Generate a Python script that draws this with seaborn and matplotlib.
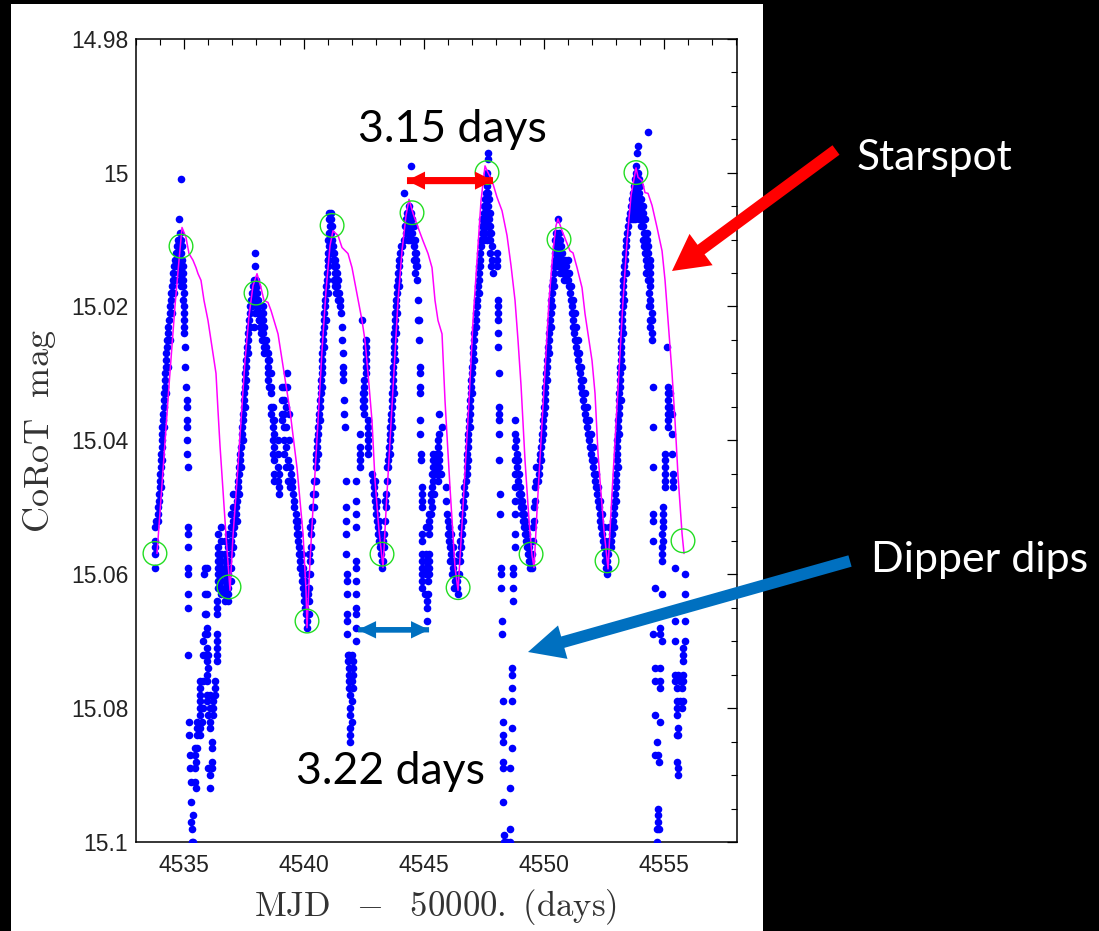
import matplotlib
matplotlib.use("Agg")
import matplotlib.pyplot as plt
import seaborn as sns
import numpy as np
from matplotlib.patches import Rectangle
from matplotlib.ticker import MultipleLocator, FixedLocator, FixedFormatter

# ---------------- data (MJD-50000, CoRoT mag) ----------------
rise1 = [(4533.79,15.059),(4533.79,15.057),(4533.81,15.056),(4533.79,15.055),(4533.81,15.053),(4533.85,15.052),(4533.90,15.052),(4533.90,15.051),(4533.92,15.050),(4533.95,15.049),(4533.97,15.048),(4534.00,15.047),(4533.98,15.046),(4534.02,15.045),(4534.04,15.044),(4534.05,15.043),(4534.06,15.042),(4534.08,15.041),(4534.08,15.040),(4534.10,15.039),(4534.10,15.038),(4534.12,15.037),(4534.13,15.036),(4534.15,15.035),(4534.17,15.034),(4534.17,15.033),(4534.19,15.032),(4534.21,15.031),(4534.21,15.030),(4534.23,15.029),(4534.25,15.028),(4534.27,15.027),(4534.29,15.026),(4534.31,15.025),(4534.33,15.024),(4534.35,15.023),(4534.37,15.022),(4534.40,15.021),(4534.42,15.020),(4534.44,15.019),(4534.46,15.018),(4534.50,15.017),(4534.54,15.016),(4534.56,15.015),(4534.60,15.014),(4534.63,15.013),(4534.67,15.012),(4534.70,15.011),(4534.73,15.010),(4534.04,15.047),(4534.10,15.043),(4534.17,15.038),(4534.25,15.033),(4534.33,15.029),(4534.40,15.025),(4534.48,15.021),(4534.58,15.018),(4534.63,15.016),(4534.67,15.014)]
peak1 = [(4534.875,15.001),(4534.79,15.007),(4534.83,15.009),(4534.79,15.010),(4534.875,15.010),(4534.83,15.011),(4534.92,15.011),(4534.79,15.012),(4534.875,15.012),(4534.92,15.013),(4534.75,15.013),(4534.83,15.014),(4534.96,15.014),(4534.79,15.015),(4534.92,15.015),(4534.96,15.016),(4534.83,15.016),(4534.96,15.017),(4534.88,15.017)]
dip1 = [(4534.95,15.019),(4534.99,15.020),(4534.99,15.021),(4534.99,15.022),(4535.01,15.023),(4535.01,15.024),(4535.05,15.026),(4535.05,15.029),(4535.08,15.032),(4535.11,15.034),(4535.11,15.035),(4535.11,15.037),(4535.11,15.038),(4535.13,15.040),(4535.13,15.042),(4535.15,15.044),
        (4535.18,15.053),(4535.18,15.054),(4535.18,15.056),(4535.18,15.059),(4535.18,15.060),(4535.18,15.063),(4535.18,15.065),(4535.18,15.072),
        (4535.22,15.082),(4535.22,15.084),(4535.25,15.087),(4535.25,15.089),(4535.29,15.091),(4535.46,15.086),(4535.46,15.087),(4535.50,15.088),(4535.46,15.089),(4535.46,15.091),(4535.50,15.092),(4535.28,15.094),(4535.28,15.097),(4535.39,15.096),(4535.32,15.098),(4535.32,15.100),(4535.39,15.100),
        (4535.875,15.066),(4535.94,15.068),(4535.94,15.069),(4535.875,15.069),(4535.80,15.070),(4535.94,15.071),(4535.875,15.072),(4535.80,15.072),(4536.01,15.072),(4535.94,15.073),(4536.01,15.074),(4535.94,15.075),
        (4535.67,15.076),(4535.80,15.076),(4535.94,15.076),(4536.29,15.076),(4535.67,15.077),(4536.29,15.077),(4535.67,15.078),(4535.94,15.078),(4536.08,15.078),(4536.29,15.078),(4535.67,15.079),(4535.94,15.079),(4536.22,15.079),(4535.67,15.080),(4535.80,15.080),(4536.08,15.080),(4536.22,15.080),(4535.67,15.081),(4536.01,15.081),(4536.22,15.081),(4535.55,15.082),(4535.74,15.082),(4536.08,15.082),(4535.53,15.083),(4535.67,15.083),(4536.08,15.083),(4535.53,15.084),(4535.67,15.084),(4536.15,15.085),(4535.53,15.086),(4536.15,15.086),(4536.15,15.088),(4536.01,15.089),(4536.15,15.089),(4536.08,15.090),(4536.08,15.092),
        (4536.36,15.064),(4536.36,15.065),(4536.36,15.066),(4536.36,15.069),(4536.36,15.070),(4536.36,15.071),(4536.36,15.072),(4536.36,15.073),
        (4535.875,15.059),(4535.94,15.059),(4535.875,15.063),(4535.94,15.063),(4535.83,15.060),(4535.90,15.066),(4534.99,15.018),(4534.96,15.015)]
trough2 = [(4536.42,15.054),(4536.42,15.056),(4536.42,15.057),(4536.42,15.058),(4536.42,15.059),(4536.42,15.060),(4536.42,15.061),(4536.42,15.062),
           (4536.55,15.053),(4536.55,15.055),(4536.55,15.057),(4536.55,15.058),(4536.55,15.059),(4536.55,15.060),(4536.55,15.061),(4536.55,15.062),(4536.55,15.063),
           (4536.70,15.055),(4536.70,15.057),(4536.70,15.058),(4536.70,15.059),(4536.70,15.060),(4536.70,15.061),(4536.70,15.062),(4536.70,15.063),(4536.70,15.064),
           (4536.85,15.054),(4536.85,15.056),(4536.85,15.058),(4536.85,15.060),(4536.85,15.061),(4536.85,15.062),(4536.85,15.063),(4536.85,15.064),
           (4536.95,15.051),(4536.95,15.053),(4536.95,15.055),(4536.95,15.057),(4536.95,15.059),(4536.95,15.061),
           (4537.04,15.048),(4537.04,15.050),(4537.04,15.052),(4537.04,15.054),(4537.04,15.056)]
rise2 = [(4537.08,15.053),(4537.12,15.052),(4537.15,15.051),(4537.18,15.050),(4537.20,15.049),(4537.23,15.048),(4537.25,15.047),(4537.27,15.046),(4537.29,15.045),(4537.31,15.044),(4537.33,15.043),(4537.35,15.042),(4537.38,15.041),(4537.40,15.040),(4537.42,15.039),(4537.43,15.038),(4537.45,15.037),(4537.46,15.036),(4537.48,15.035),(4537.50,15.034),(4537.51,15.033),(4537.53,15.032),(4537.54,15.031),(4537.56,15.030),(4537.58,15.029),(4537.60,15.028),(4537.62,15.027),(4537.63,15.026),(4537.65,15.025),(4537.67,15.024),(4537.69,15.023),(4537.71,15.022),(4537.73,15.021),(4537.75,15.020),(4537.79,15.019),(4537.83,15.018),(4537.87,15.017),
         (4537.20,15.052),(4537.30,15.048),(4537.38,15.044),(4537.46,15.040),(4537.54,15.035),(4537.60,15.031),(4537.68,15.027),(4537.76,15.023),(4537.83,15.020)]
peak2 = [(4537.96,15.012),(4537.96,15.014),(4537.92,15.016),(4538.00,15.016),(4537.92,15.017),(4538.04,15.017),(4537.96,15.018),(4538.04,15.018),(4537.92,15.019),(4538.00,15.019),(4538.08,15.019),(4538.00,15.020),(4538.12,15.020),(4537.96,15.021),(4538.08,15.021),(4538.17,15.021),(4538.12,15.022),(4538.21,15.022),(4537.90,15.023),(4538.17,15.023),(4538.25,15.023),(4538.21,15.024),(4538.25,15.025)]
fall2 = [(4538.14,15.022),(4538.28,15.020),(4538.28,15.021),(4538.28,15.022),(4538.28,15.023),(4538.28,15.024),(4538.35,15.023),(4538.35,15.025),(4538.35,15.026),(4538.35,15.027),(4538.42,15.025),(4538.42,15.026),(4538.49,15.027),(4538.49,15.028),(4538.49,15.029),(4538.49,15.030),(4538.49,15.031),(4538.56,15.028),(4538.56,15.030),(4538.56,15.032),(4538.62,15.030),(4538.62,15.032),(4538.62,15.033),(4538.62,15.035),(4538.62,15.036),(4538.70,15.035),(4538.70,15.037),(4538.70,15.038),(4538.70,15.040),(4538.70,15.042),(4538.76,15.037),(4538.76,15.039),(4538.76,15.041),(4538.76,15.043),(4538.76,15.045),(4538.76,15.046),(4538.90,15.040),(4538.90,15.042),(4538.90,15.044),(4538.90,15.046),(4538.97,15.045),(4538.97,15.047),(4538.97,15.048),(4539.10,15.032),(4539.10,15.034),(4539.10,15.036),(4539.10,15.037),(4539.18,15.032),(4539.18,15.034),(4539.18,15.036),(4539.18,15.038),(4539.18,15.040),(4539.18,15.042),(4539.25,15.035),(4539.25,15.038),(4539.25,15.041),(4539.25,15.044),(4539.30,15.030),(4539.30,15.032),(4539.33,15.043),(4539.33,15.046),(4539.38,15.036),(4539.38,15.040),(4539.42,15.044),(4539.42,15.047),(4539.46,15.045),(4539.50,15.046),(4539.50,15.047)]
trough3 = [(4539.55,15.048),(4539.60,15.049),(4539.60,15.050),(4539.65,15.051),(4539.65,15.052),(4539.70,15.053),(4539.70,15.054),(4539.75,15.055),(4539.80,15.056),(4539.80,15.057),(4539.85,15.058),(4539.85,15.059),(4539.90,15.060),(4539.90,15.061),(4539.95,15.062),(4540.00,15.063),(4540.00,15.064),(4540.05,15.065),(4540.10,15.066),(4540.12,15.067),(4540.12,15.068),(4540.20,15.066),(4540.20,15.064),(4540.22,15.062),(4540.25,15.060),(4540.25,15.058),(4540.28,15.056),(4540.30,15.054),(4540.32,15.052),(4540.35,15.050),(4540.38,15.048),(4540.40,15.046),(4539.90,15.057),(4539.95,15.059),(4540.05,15.061),(4540.15,15.063),(4540.18,15.060),(4540.22,15.057),(4540.26,15.053),(4539.75,15.052),(4539.80,15.054)]
rise3 = [(4540.42,15.050),(4540.44,15.048),(4540.46,15.046),(4540.48,15.044),(4540.50,15.043),(4540.52,15.042),(4540.54,15.041),(4540.56,15.040),(4540.58,15.039),(4540.60,15.038),(4540.62,15.037),(4540.63,15.036),(4540.65,15.035),(4540.67,15.034),(4540.69,15.033),(4540.71,15.032),(4540.72,15.031),(4540.73,15.030),(4540.75,15.029),(4540.76,15.028),(4540.77,15.027),(4540.79,15.026),(4540.80,15.025),(4540.81,15.024),(4540.82,15.023),(4540.83,15.022),(4540.85,15.021),(4540.86,15.020),(4540.88,15.019),(4540.90,15.018),(4540.92,15.017),(4540.94,15.016),(4540.96,15.015),(4540.98,15.014),(4541.00,15.013),(4541.02,15.012),
         (4540.52,15.046),(4540.60,15.042),(4540.68,15.037),(4540.75,15.032),(4540.84,15.026),(4540.90,15.022),(4540.98,15.018)]
peak3 = [(4541.04,15.006),(4541.12,15.006),(4541.04,15.007),(4541.12,15.007),(4541.08,15.008),(4541.17,15.008),(4541.04,15.009),(4541.12,15.009),(4541.00,15.010),(4541.08,15.010),(4541.17,15.010),(4541.04,15.011),(4541.12,15.011),(4541.21,15.011),(4541.08,15.012),(4541.17,15.012),(4541.25,15.012),(4541.00,15.013),(4541.21,15.013),(4541.29,15.013),(4541.25,15.014),(4541.33,15.014),(4541.29,15.015),(4541.37,15.015),(4541.25,15.016),(4541.33,15.016),(4541.29,15.017),(4541.37,15.017),(4541.33,15.018),(4541.42,15.019)]
dip2 = [(4541.42,15.016),(4541.46,15.018),(4541.50,15.019),(4541.50,15.020),(4541.54,15.021),
        (4541.58,15.023),(4541.58,15.025),(4541.62,15.027),(4541.62,15.029),(4541.64,15.030),(4541.64,15.031),(4541.67,15.034),(4541.67,15.036),(4541.71,15.038),
        (4541.75,15.046),(4541.75,15.050),(4541.75,15.052),(4541.75,15.054),(4541.75,15.057),(4541.78,15.060),(4541.78,15.061),(4541.78,15.063),(4541.78,15.066),(4541.80,15.067),(4541.80,15.069),
        (4541.83,15.072),(4541.88,15.072),(4542.00,15.072),(4541.83,15.073),(4542.04,15.073),(4541.88,15.074),(4542.04,15.074),(4541.88,15.075),(4542.04,15.075),(4541.88,15.076),(4542.00,15.076),(4541.88,15.077),(4542.04,15.077),(4541.92,15.078),(4542.00,15.079),(4541.92,15.080),(4541.92,15.081),(4542.00,15.082),(4541.92,15.083),(4541.92,15.084),(4541.92,15.085),
        (4542.17,15.046),(4542.17,15.049),(4542.17,15.051),(4542.17,15.053),(4542.17,15.058),(4542.17,15.059),(4542.17,15.061),(4542.17,15.063),(4542.17,15.065),(4542.17,15.066),(4542.17,15.068),(4542.17,15.070),
        (4542.40,15.022),(4542.58,15.025),(4542.58,15.026),(4542.58,15.027),(4542.58,15.028),(4542.58,15.029),(4542.58,15.030),(4542.48,15.031),(4542.48,15.032),(4542.44,15.033),(4542.48,15.033),(4542.44,15.034),(4542.48,15.034),(4542.48,15.035),(4542.44,15.035),(4542.48,15.036),(4542.67,15.037),(4542.67,15.038),(4542.67,15.039),(4542.67,15.040),(4542.67,15.041),(4542.67,15.042),(4542.33,15.039),(4542.33,15.041),(4542.33,15.042),(4542.33,15.043),(4542.33,15.044)]
trough4 = [(4542.85,15.045),(4542.88,15.046),(4542.92,15.047),(4542.92,15.048),(4542.96,15.049),(4543.00,15.050),(4543.00,15.051),(4543.04,15.052),(4543.08,15.053),(4543.08,15.054),(4543.12,15.055),(4543.17,15.056),(4543.20,15.057),(4543.25,15.058),(4543.25,15.059),(4543.30,15.058),(4543.33,15.056),(4543.33,15.054),(4543.37,15.052),(4543.40,15.050),(4543.42,15.048),(4543.45,15.046),(4543.46,15.044),
           (4542.96,15.046),(4543.04,15.049),(4543.12,15.052),(4543.17,15.054),(4543.29,15.055),(4543.37,15.049)]
rise4 = [(4543.50,15.044),(4543.52,15.043),(4543.54,15.042),(4543.56,15.041),(4543.57,15.040),(4543.58,15.039),(4543.60,15.038),(4543.62,15.037),(4543.63,15.036),(4543.65,15.035),(4543.67,15.034),(4543.68,15.033),(4543.69,15.032),(4543.70,15.031),(4543.71,15.030),(4543.72,15.029),(4543.73,15.028),(4543.74,15.027),(4543.75,15.026),(4543.76,15.025),(4543.77,15.024),(4543.78,15.023),(4543.79,15.022),(4543.80,15.021),(4543.82,15.020),(4543.84,15.019),(4543.86,15.018),(4543.88,15.017),(4543.90,15.016),(4543.92,15.015),(4543.95,15.014),(4543.97,15.013),(4544.00,15.012),(4544.03,15.011),
         (4543.60,15.042),(4543.67,15.038),(4543.73,15.033),(4543.78,15.028),(4543.82,15.024),(4543.88,15.021),(4543.94,15.017)]
peak4 = [(4544.46,14.999),(4544.17,15.003),(4544.38,15.005),(4544.29,15.006),(4544.46,15.006),(4544.25,15.007),(4544.38,15.007),(4544.50,15.007),(4544.21,15.008),(4544.33,15.008),(4544.46,15.008),(4544.58,15.008),(4544.25,15.009),(4544.38,15.009),(4544.50,15.009),(4544.17,15.010),(4544.33,15.010),(4544.42,15.010),(4544.54,15.010),(4544.08,15.011),(4544.58,15.011),(4544.62,15.012),(4544.58,15.013),(4544.67,15.014),(4544.62,15.015)]
dip3 = [(4544.63,15.010),(4544.67,15.012),(4544.67,15.013),(4544.71,15.014),(4544.71,15.016),(4544.75,15.019),(4544.75,15.022),(4544.79,15.022),(4544.79,15.025),(4544.83,15.029),(4544.83,15.030),(4544.85,15.032),(4544.85,15.033),(4544.85,15.037),(4544.85,15.039),(4544.88,15.042),(4544.88,15.043),
        (4545.64,15.036),(4545.74,15.038),(4545.64,15.039),(4545.60,15.040),(4545.60,15.041),
        (4545.38,15.042),(4545.50,15.042),(4545.64,15.042),(4545.38,15.043),(4545.50,15.043),(4545.64,15.043),(4545.38,15.044),(4545.50,15.044),(4545.64,15.044),(4545.33,15.045),(4545.46,15.045),(4545.58,15.045),(4545.71,15.045),(4545.38,15.046),(4545.58,15.046),
        (4545.33,15.047),(4545.29,15.048),(4545.42,15.048),(4545.29,15.049),(4545.33,15.050),
        (4545.21,15.051),(4545.29,15.051),(4545.21,15.052),(4545.21,15.053),(4545.08,15.053),(4545.21,15.054),
        (4544.92,15.047),(4544.92,15.048),(4544.92,15.049),(4544.92,15.050),
        (4544.92,15.054),(4544.92,15.055),(4544.92,15.057),(4544.92,15.058),(4544.92,15.059),(4544.92,15.060),(4544.92,15.061),(4544.92,15.062),
        (4545.08,15.057),(4545.21,15.057),(4545.08,15.058),(4545.21,15.058),(4545.08,15.059),(4545.21,15.059),(4545.08,15.060),(4545.21,15.060),(4545.15,15.061),
        (4545.04,15.063),(4545.17,15.063),(4545.12,15.064),(4545.12,15.065),(4545.12,15.067)]
trough5 = [(4545.90,15.047),(4545.90,15.049),(4545.96,15.051),(4546.00,15.052),(4546.00,15.054),(4546.04,15.055),(4546.04,15.053),(4546.08,15.056),(4546.12,15.057),(4546.08,15.058),(4546.17,15.058),(4546.21,15.059),(4546.17,15.060),(4546.25,15.060),(4546.30,15.061),(4546.25,15.062),(4546.38,15.062),(4546.42,15.063),(4546.38,15.061),(4546.46,15.060),(4546.50,15.058),(4546.46,15.057),(4546.54,15.056),(4546.50,15.055),(4546.58,15.054),(4546.54,15.053),(4546.62,15.052),(4546.58,15.051),(4546.67,15.050),(4546.62,15.049),(4546.71,15.048),(4546.67,15.047),(4546.75,15.046),(4546.30,15.058),(4546.21,15.056),(4546.12,15.054)]
rise5 = [(4546.77,15.045),(4546.79,15.044),(4546.80,15.043),(4546.81,15.042),(4546.82,15.041),(4546.83,15.040),(4546.85,15.039),(4546.87,15.038),(4546.88,15.037),(4546.90,15.036),(4546.91,15.035),(4546.92,15.034),(4546.94,15.033),(4546.96,15.032),(4546.97,15.031),(4546.98,15.030),(4547.00,15.029),(4547.02,15.028),(4547.04,15.027),(4547.06,15.026),(4547.08,15.025),(4547.10,15.024),(4547.12,15.023),(4547.15,15.022),(4547.17,15.021),(4547.19,15.020),(4547.21,15.019),(4547.23,15.018),(4547.25,15.017),(4547.27,15.016),(4547.29,15.015),(4547.31,15.014),(4547.33,15.013),(4547.35,15.012),(4547.37,15.011),(4547.38,15.010),(4547.40,15.009),(4547.42,15.008),(4547.43,15.007),
         (4546.85,15.043),(4546.92,15.038),(4547.00,15.033),(4547.08,15.028),(4547.17,15.023),(4547.27,15.018),(4547.35,15.014),(4547.42,15.010)]
peak5 = [(4547.67,14.997),(4547.67,14.998),(4547.62,15.000),(4547.58,15.001),(4547.67,15.001),(4547.62,15.002),(4547.58,15.003),(4547.67,15.003),(4547.54,15.004),(4547.62,15.004),(4547.71,15.004),(4547.50,15.005),(4547.58,15.005),(4547.67,15.005),(4547.50,15.006),(4547.58,15.006),(4547.67,15.006),(4547.75,15.006),(4547.54,15.007),(4547.62,15.007),(4547.71,15.007),(4547.50,15.008),(4547.58,15.008),(4547.67,15.008),(4547.75,15.008),(4547.54,15.009),(4547.71,15.009),(4547.79,15.009),(4547.50,15.010),(4547.62,15.010),(4547.75,15.010),(4547.83,15.011),(4547.75,15.012),(4547.83,15.013),(4547.79,15.014),(4547.88,15.015)]
dip4 = [(4548.03,15.012),(4548.03,15.013),(4548.03,15.014),(4548.08,15.019),(4548.08,15.020),(4548.08,15.021),(4548.08,15.022),(4548.10,15.024),(4548.10,15.026),(4548.12,15.030),(4548.12,15.035),(4548.12,15.036),(4548.12,15.037),(4548.14,15.039),(4548.14,15.043),(4548.16,15.048),(4548.16,15.051),(4548.20,15.059),(4548.20,15.060),(4548.20,15.062),(4548.24,15.067),(4548.24,15.069),
        (4548.65,15.074),(4548.65,15.075),(4548.65,15.077),(4548.31,15.079),(4548.65,15.079),(4548.31,15.082),(4548.65,15.083),(4548.31,15.084),(4548.31,15.085),(4548.65,15.086),(4548.31,15.088),(4548.31,15.089),(4548.58,15.089),(4548.58,15.092),(4548.31,15.094),(4548.58,15.098),(4548.33,15.099),(4548.33,15.100),(4548.47,15.100),(4548.58,15.100),
        (4548.72,15.059),(4548.72,15.060),(4548.72,15.062),(4548.72,15.064),(4548.79,15.054),(4548.79,15.056)]
trough6 = [(4548.80,15.037),(4548.80,15.039),(4548.80,15.041),(4548.80,15.043),(4548.80,15.045),(4548.80,15.047),(4548.80,15.049),(4548.80,15.051),(4548.85,15.040),(4548.88,15.042),(4548.88,15.044),(4548.92,15.043),(4548.92,15.046),(4548.96,15.045),(4548.96,15.048),(4549.00,15.047),(4549.00,15.049),(4549.04,15.048),(4549.04,15.050),(4549.08,15.049),(4549.08,15.051),(4549.12,15.050),(4549.12,15.052),(4549.17,15.051),(4549.17,15.053),(4549.21,15.052),(4549.21,15.054),(4549.25,15.053),(4549.25,15.055),(4549.29,15.054),(4549.29,15.056),(4549.33,15.055),(4549.33,15.057),(4549.38,15.056),(4549.38,15.058),(4549.42,15.057),(4549.42,15.059),(4549.46,15.058),(4549.50,15.059),(4549.50,15.057),(4549.54,15.055),(4549.54,15.053),(4549.58,15.052),(4549.58,15.050),(4549.62,15.049),(4549.62,15.047),(4549.67,15.046),(4549.67,15.044)]
rise6 = [(4549.75,15.046),(4549.79,15.045),(4549.81,15.044),(4549.83,15.043),(4549.85,15.042),(4549.88,15.041),(4549.90,15.040),(4549.92,15.039),(4549.94,15.038),(4549.96,15.037),(4549.98,15.036),(4550.00,15.035),(4550.02,15.034),(4550.04,15.033),(4550.06,15.032),(4550.08,15.031),(4550.10,15.030),(4550.12,15.029),(4550.13,15.028),(4550.15,15.027),(4550.17,15.026),(4550.19,15.025),(4550.21,15.024),(4550.23,15.023),(4550.25,15.022),(4550.27,15.021),(4550.29,15.020),(4550.31,15.019),(4550.33,15.018),(4550.35,15.017),(4550.38,15.016),(4550.40,15.015),(4550.42,15.014),(4550.44,15.013),
         (4549.88,15.043),(4549.96,15.039),(4550.04,15.035),(4550.12,15.031),(4550.20,15.027),(4550.27,15.023),(4550.33,15.020),(4550.40,15.017)]
peak6 = [(4550.57,15.007),(4550.50,15.009),(4550.62,15.009),(4550.46,15.010),(4550.58,15.010),(4550.67,15.010),(4550.50,15.011),(4550.62,15.011),(4550.71,15.011),(4550.46,15.012),(4550.54,15.012),(4550.67,15.012),(4550.75,15.012),(4550.50,15.013),(4550.58,15.013),(4550.71,15.013),(4550.79,15.013),(4550.54,15.014),(4550.62,15.014),(4550.75,15.014),(4550.83,15.014),(4550.67,15.015),(4550.79,15.015),(4550.88,15.015),(4550.83,15.016),(4550.92,15.016)]
fall6 = [(4550.88,15.013),(4550.92,15.014),(4550.96,15.015),(4551.00,15.016),(4551.04,15.017),(4551.08,15.018),(4551.12,15.019),(4551.15,15.020),(4551.17,15.021),(4551.20,15.022),(4551.22,15.023),(4551.25,15.024),(4551.29,15.025),(4551.33,15.026),(4551.37,15.027),(4551.40,15.028),(4551.44,15.029),(4551.48,15.030),(4551.52,15.031),(4551.56,15.032),(4551.60,15.033),(4551.64,15.034),(4551.68,15.035),(4551.72,15.036),(4551.76,15.037),(4551.80,15.038),(4551.84,15.039),(4551.88,15.040),(4551.92,15.041),(4551.96,15.042),(4552.00,15.043),(4552.04,15.044),(4552.08,15.045),(4552.12,15.046),(4552.16,15.047),(4552.20,15.048),(4552.24,15.049),(4552.28,15.050),(4552.32,15.051),(4552.35,15.052),(4552.38,15.053),(4552.42,15.054),(4552.45,15.055),(4552.48,15.056),
         (4550.98,15.013),(4551.06,15.015),(4551.14,15.017),(4551.22,15.019),(4551.27,15.021),(4551.32,15.023),(4551.40,15.025),(4551.46,15.027),(4551.54,15.029),(4551.62,15.031),(4551.70,15.033),(4551.78,15.035),(4551.86,15.037),(4551.94,15.039),(4552.02,15.041),(4552.10,15.043),(4552.18,15.045),(4552.26,15.047),(4552.34,15.049),(4552.40,15.051)]
trough7 = [(4552.52,15.057),(4552.54,15.058),(4552.58,15.059),(4552.62,15.060),(4552.62,15.058),(4552.67,15.057),(4552.67,15.059),(4552.58,15.056),(4552.54,15.055),(4552.50,15.053),(4552.71,15.055),(4552.71,15.053)]
rise7 = [(4552.78,15.056),(4552.80,15.055),(4552.83,15.054),(4552.85,15.053),(4552.88,15.052),(4552.90,15.051),(4552.92,15.050),(4552.94,15.049),(4552.96,15.048),(4552.98,15.047),(4553.00,15.046),(4553.01,15.045),(4553.02,15.044),(4553.03,15.043),(4553.04,15.042),(4553.05,15.041),(4553.06,15.040),(4553.08,15.039),(4553.09,15.038),(4553.10,15.037),(4553.11,15.036),(4553.12,15.035),(4553.13,15.034),(4553.14,15.033),(4553.15,15.032),(4553.16,15.031),(4553.17,15.030),(4553.18,15.029),(4553.19,15.028),(4553.20,15.027),(4553.21,15.026),(4553.22,15.025),(4553.23,15.024),(4553.24,15.023),(4553.25,15.022),(4553.26,15.021),(4553.27,15.020),(4553.28,15.019),(4553.29,15.018),(4553.30,15.017),(4553.31,15.016),(4553.33,15.015),(4553.35,15.014),(4553.37,15.013),(4553.39,15.012),(4553.41,15.011),(4553.43,15.010),(4553.45,15.009),
         (4552.90,15.053),(4553.00,15.049),(4553.08,15.044),(4553.14,15.039),(4553.20,15.034),(4553.25,15.029),(4553.30,15.024),(4553.35,15.019),(4553.40,15.015)]
peak7 = [(4554.35,14.994),(4553.93,14.996),(4553.86,14.997),(4553.83,14.999),(4553.83,15.000),(4553.92,15.000),(4553.79,15.001),(4553.88,15.001),(4553.96,15.001),(4553.75,15.002),(4553.83,15.002),(4553.92,15.002),(4554.00,15.002),(4553.71,15.003),(4553.79,15.003),(4553.88,15.003),(4553.96,15.003),(4553.67,15.004),(4553.75,15.004),(4553.83,15.004),(4553.92,15.004),(4554.04,15.004),(4553.62,15.005),(4553.71,15.005),(4553.79,15.005),(4553.88,15.005),(4553.96,15.005),(4554.08,15.005),(4553.58,15.006),(4553.67,15.006),(4553.75,15.006),(4553.83,15.006),(4553.92,15.006),(4554.00,15.006),(4554.12,15.006),(4553.54,15.007),(4553.62,15.007),(4553.71,15.007),(4553.79,15.007),(4553.96,15.007),(4554.08,15.007),(4553.50,15.008),(4554.04,15.008),(4554.12,15.008),(4554.17,15.009),(4554.12,15.010),(4554.21,15.010),(4554.17,15.011),(4554.25,15.011),(4554.21,15.012),(4554.29,15.012),(4554.25,15.013),(4554.29,15.014),(4554.25,15.015)]
dip5 = [(4554.14,15.005),(4554.21,15.007),(4554.28,15.009),(4554.28,15.010),(4554.35,15.011),(4554.35,15.012),(4554.42,15.013),(4554.42,15.014),(4554.42,15.015),(4554.42,15.016),(4554.42,15.017),(4554.42,15.019),(4554.42,15.020),(4554.49,15.021),(4554.49,15.022),(4554.49,15.024),(4554.49,15.025),(4554.53,15.032),(4554.53,15.038),(4554.53,15.044),
        (4554.35,15.014),(4554.35,15.016),(4554.38,15.018),(4554.38,15.020),(4554.42,15.022),(4554.42,15.023),
        (4555.11,15.026),(4555.18,15.032),(4555.18,15.033),(4555.18,15.034),(4555.18,15.035),(4555.18,15.036),(4555.18,15.037),(4555.18,15.038),(4555.25,15.033),(4555.25,15.035),(4555.32,15.036),(4555.32,15.039),(4555.32,15.042),(4555.04,15.042),(4555.04,15.043),(4555.04,15.044),(4555.04,15.045),(4555.04,15.046),(4555.04,15.047),(4555.39,15.045),(4555.39,15.046),(4555.39,15.047),
        (4554.56,15.051),(4554.56,15.052),(4554.97,15.050),(4554.97,15.051),(4554.97,15.052),(4554.97,15.053),(4554.90,15.054),(4554.56,15.055),(4554.97,15.055),(4554.90,15.056),(4554.90,15.057),(4554.90,15.058),(4554.63,15.062),(4554.90,15.063),
        (4554.83,15.068),(4554.56,15.069),(4554.83,15.069),(4554.90,15.070),(4554.63,15.074),(4554.83,15.074),(4554.63,15.076),(4554.83,15.076),(4554.83,15.077),(4554.63,15.081),(4554.83,15.082),(4554.70,15.085),(4554.63,15.087),(4554.76,15.087),(4554.80,15.088),(4554.76,15.095),(4554.76,15.096),(4554.76,15.097),(4554.70,15.098),(4554.80,15.098),(4554.72,15.100),
        (4555.46,15.059),(4555.875,15.060),(4555.875,15.063),(4555.46,15.067),(4555.875,15.067),(4555.46,15.070),(4555.875,15.070),(4555.80,15.071),(4555.80,15.072),(4555.80,15.073),(4555.46,15.075),(4555.60,15.075),(4555.80,15.075),(4555.46,15.076),(4555.67,15.076),(4555.80,15.076),(4555.53,15.077),(4555.74,15.077),(4555.53,15.079),(4555.67,15.079),(4555.80,15.079),(4555.53,15.080),(4555.74,15.080),(4555.53,15.081),(4555.60,15.083),(4555.53,15.084),(4555.60,15.084),(4555.53,15.088),(4555.60,15.089),(4555.60,15.090)]

# spot model (magenta curve)
model_t = [4533.875,4534.125,4534.375,4534.625,4534.792,4534.917,4535.083,4535.208,4535.375,4535.5,4535.583,4535.708,4535.833,4536.0,4536.125,4536.208,4536.333,4536.417,4536.5,4536.625,4536.75,4536.917,
           4537.042,4537.208,4537.375,4537.542,4537.708,4537.875,4538.042,4538.208,4538.333,4538.5,4538.625,4538.75,4538.917,4539.042,4539.167,4539.417,4539.708,4539.958,4540.083,4540.125,
           4540.25,4540.417,4540.583,4540.75,4540.917,4541.083,4541.208,4541.417,4541.583,4541.833,4542.0,4542.208,4542.417,4542.542,4542.667,4542.833,4542.958,4543.125,4543.292,
           4543.417,4543.583,4543.75,4543.917,4544.083,4544.25,4544.375,4544.542,4544.75,4544.958,4545.167,4545.333,4545.458,4545.583,4545.75,4545.875,4546.083,4546.292,4546.417,
           4546.542,4546.708,4546.875,4547.042,4547.208,4547.375,4547.542,4547.625,4547.833,4548.042,4548.25,4548.458,4548.625,4548.792,4548.917,4549.042,4549.208,4549.375,4549.5,4549.583,
           4549.708,4549.875,4550.042,4550.208,4550.375,4550.5,4550.583,4550.75,4550.958,4551.083,4551.208,4551.375,4551.583,4551.708,4551.833,4552.0,4552.125,4552.25,4552.333,4552.5,4552.667,
           4552.792,4552.958,4553.125,4553.292,4553.458,4553.625,4553.833,4553.917,4554.083,4554.208,4554.333,4554.5,4554.708,4554.917,4555.042,4555.167,4555.333,4555.458,4555.583,4555.75,4555.833]
model_mag = [15.0569,15.0445,15.0318,15.0199,15.0131,15.0082,15.0097,15.0121,15.0131,15.0142,15.0151,15.0161,15.0191,15.0221,15.0251,15.0270,15.0300,15.0356,15.0408,15.0475,15.0542,15.0624,
             15.0542,15.0460,15.0371,15.0281,15.0214,15.0169,15.0151,15.0172,15.0191,15.0194,15.0206,15.0221,15.0241,15.0270,15.0300,15.0356,15.0441,15.0539,15.0624,15.0680,
             15.0580,15.0475,15.0371,15.0266,15.0176,15.0109,15.0087,15.0094,15.0112,15.0121,15.0142,15.0181,15.0221,15.0251,15.0300,15.0371,15.0460,15.0535,15.0590,
             15.0505,15.0400,15.0296,15.0191,15.0117,15.0064,15.0040,15.0061,15.0082,15.0102,15.0121,15.0142,15.0191,15.0221,15.0241,15.0341,15.0471,15.0590,15.0624,
             15.0550,15.0445,15.0341,15.0221,15.0131,15.0042,14.9990,14.9997,15.0012,15.0037,15.0057,15.0094,15.0139,15.0191,15.0251,15.0318,15.0430,15.0520,15.0572,15.0590,
             15.0505,15.0400,15.0296,15.0191,15.0117,15.0079,15.0069,15.0087,15.0106,15.0117,15.0120,15.0142,15.0172,15.0211,15.0241,15.0281,15.0330,15.0420,15.0460,15.0535,15.0592,
             15.0505,15.0400,15.0296,15.0191,15.0102,15.0034,14.9993,15.0007,15.0012,15.0030,15.0031,15.0049,15.0082,15.0117,15.0161,15.0221,15.0300,15.0371,15.0453,15.0539,15.0569]

# marked extrema (green circles)
circ_t = [4533.79,4534.875,4536.875,4538.0,4540.125,4541.17,4543.25,4544.5,4546.42,4547.625,4549.46,4550.625,4552.625,4553.83,4555.79]
circ_mag = [15.0569,15.011,15.0619,15.018,15.067,15.0079,15.057,15.006,15.062,15.000,15.057,15.010,15.058,15.000,15.055]

xticks = [4535, 4540, 4545, 4550, 4555]
yticks = [14.98, 15.0, 15.02, 15.04, 15.06, 15.08, 15.1]
ytick_labels = ["14.98", "15", "15.02", "15.04", "15.06", "15.08", "15.1"]

segments = [rise1, peak1, dip1, trough2, rise2, peak2, fall2, trough3, rise3, peak3, dip2,
            trough4, rise4, peak4, dip3, trough5, rise5, peak5, dip4, trough6, rise6, peak6,
            fall6, trough7, rise7, peak7, dip5]
pts = np.array([p for seg in segments for p in seg])

# ---------------- figure ----------------
sns.set_theme(style="white")
plt.rcParams["font.family"] = ["Liberation Sans", "DejaVu Sans"]
plt.rcParams["mathtext.fontset"] = "cm"

W, H = 1099, 931
fig = plt.figure(figsize=(W / 100, H / 100), dpi=100, facecolor="black")
fig.patches.append(Rectangle((11 / W, 0), 752 / W, 927 / H, transform=fig.transFigure,
                             facecolor="white", edgecolor="none", zorder=-5))
ax = fig.add_axes([136 / W, 1 - 842 / H, 601 / W, 803.3 / H])
ax.set_facecolor("white")

sns.scatterplot(x=pts[:, 0], y=pts[:, 1], ax=ax, color="#0000ff", s=30, linewidth=0, zorder=3)
sns.lineplot(x=model_t, y=model_mag, ax=ax, color="#ff00ff", lw=1.1, sort=False, estimator=None, zorder=4)
ax.scatter(circ_t, circ_mag, s=290, facecolors="none", edgecolors="#22dd22", linewidths=1.0, zorder=5)

ax.set_xlim(4533, 4558.04)
ax.set_ylim(15.1, 14.98)
ax.xaxis.set_major_locator(FixedLocator(xticks))
ax.xaxis.set_minor_locator(MultipleLocator(1))
ax.yaxis.set_major_locator(FixedLocator(yticks))
ax.yaxis.set_major_formatter(FixedFormatter(ytick_labels))
ax.yaxis.set_minor_locator(MultipleLocator(0.005))
ax.tick_params(which="both", direction="in", top=True, right=True, colors="black")
ax.tick_params(which="major", length=7, width=0.9, labelsize=16.5, labelcolor="#222222")
ax.tick_params(which="minor", length=4, width=0.8)
ax.tick_params(axis="x", which="major", pad=9)
ax.tick_params(axis="y", which="major", pad=5.5)
for sp in ax.spines.values():
    sp.set_color("black")
    sp.set_linewidth(1.1)
ax.set_xlabel("")
ax.set_ylabel("")

fig.text(40 / W, 1 - 431 / H, r"$\mathrm{CoRoT\ \ mag}$", rotation=90, ha="center", va="center",
         fontsize=26, color="#333333")
fig.text(435 / W, 1 - 907 / H, r"$\mathrm{MJD\ \ -\ \ 50000.\ (days)}$", ha="center", va="center",
         fontsize=25, color="#333333")

# ---------------- annotations ----------------
def double_arrow(x0, x1, y, color, tail, hw, hl):
    for xs, xe in ((x0, x1), (x1, x0)):
        ax.annotate("", xy=(xe, y), xytext=(xs, y),
                    arrowprops=dict(arrowstyle=f"simple,head_length={hl},head_width={hw},tail_width={tail}",
                                    color=color, lw=0, shrinkA=0, shrinkB=0, mutation_scale=10), zorder=6)

double_arrow(4544.29, 4547.875, 15.0012, "#ff0000", 0.5, 1.3, 1.3)
double_arrow(4542.25, 4545.21, 15.0683, "#0070c0", 0.38, 1.25, 1.3)

ax.annotate("", xy=(672 / W, 1 - 271 / H), xytext=(836 / W, 1 - 150 / H),
            xycoords="figure fraction", textcoords="figure fraction", annotation_clip=False,
            arrowprops=dict(arrowstyle="simple,head_length=2.6,head_width=2.8,tail_width=0.85",
                            color="#ff0000", lw=0, shrinkA=0, shrinkB=0, mutation_scale=10), zorder=7)
ax.annotate("", xy=(528 / W, 1 - 652 / H), xytext=(850 / W, 1 - 561 / H),
            xycoords="figure fraction", textcoords="figure fraction", annotation_clip=False,
            arrowprops=dict(arrowstyle="simple,head_length=2.6,head_width=2.5,tail_width=0.85",
                            color="#0070c0", lw=0, shrinkA=0, shrinkB=0, mutation_scale=10), zorder=7)

fig.text(452 / W, 1 - 129 / H, "3.15 days", family=["Lato", "DejaVu Sans"], fontsize=32, color="black", ha="center", va="center")
fig.text(390 / W, 1 - 772 / H, "3.22 days", family=["Lato", "DejaVu Sans"], fontsize=32, color="black", ha="center", va="center")
fig.text(934 / W, 1 - 158 / H, "Starspot", family=["Lato", "DejaVu Sans"], fontsize=30.5, color="white", ha="center", va="center")
fig.text(980 / W, 1 - 560 / H, "Dipper dips", family=["Lato", "DejaVu Sans"], fontsize=31, color="white", ha="center", va="center")

fig.savefig("out.png", dpi=100, facecolor="black")
